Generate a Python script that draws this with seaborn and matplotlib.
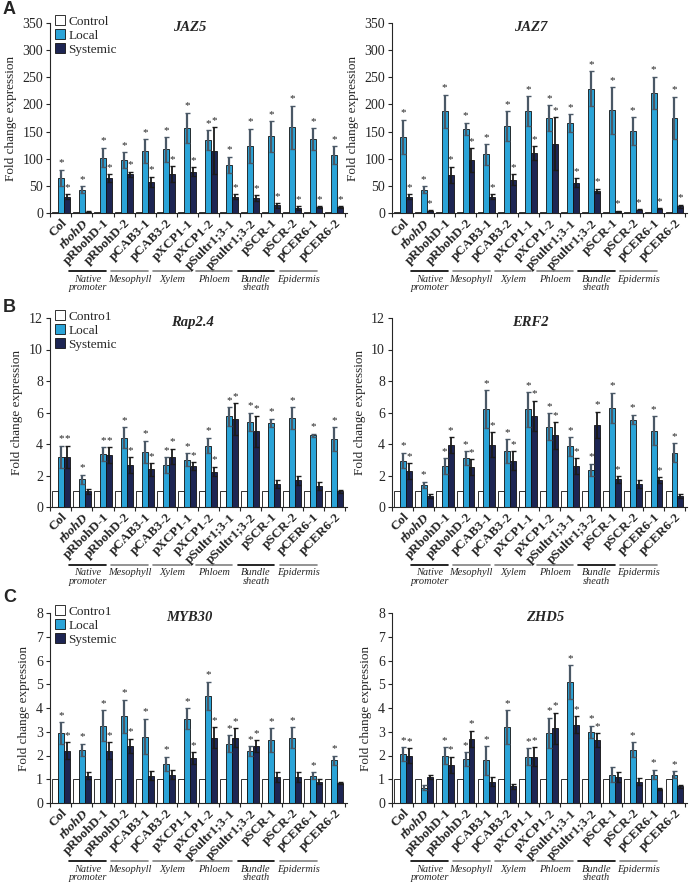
import pandas as pd
import matplotlib
matplotlib.use('Agg')
import matplotlib.pyplot as plt
import matplotlib.transforms as mtransforms
from matplotlib.patches import Patch
import seaborn as sns

# genotypes on the x axis, in order
genotypes = ['Col', 'rbohD', 'pRbohD-1', 'pRbohD-2', 'pCAB3-1', 'pCAB3-2', 'pXCP1-1', 'pXCP1-2',
             'pSultr1;3-1', 'pSultr1;3-2', 'pSCR-1', 'pSCR-2', 'pCER6-1', 'pCER6-2']
tissues = ['Native\npromoter', 'Mesophyll', 'Xylem', 'Phloem', 'Bundle\nsheath', 'Epidermis']
tissue_line_colors = ['black', 'grey', 'grey', 'grey', 'black', 'grey']
control = [1.0] * 14

# JAZ5
jaz5_local = [65, 43, 102, 97, 114, 117, 157, 134, 89, 124, 141, 158, 136, 107]
jaz5_local_err = [15, 6, 18, 15, 22, 23, 28, 18, 15, 31, 28, 40, 20, 16]
jaz5_sys = [30, 2, 65, 71, 57, 72, 76, 115, 30, 28, 14, 9, 11, 11]
jaz5_sys_err = [5, 1, 7, 5, 10, 14, 8, 43, 5, 5, 4, 3, 2, 2]
jaz5_local_star = [1] * 14
jaz5_sys_star = [1, 0, 1, 1, 1, 1, 1, 1, 1, 1, 1, 1, 1, 1]

# JAZ7
jaz7_local = [140, 43, 187, 155, 108, 160, 188, 175, 166, 229, 189, 151, 221, 175]
jaz7_local_err = [32, 6, 31, 11, 19, 27, 27, 24, 16, 32, 43, 25, 30, 39]
jaz7_sys = [30, 4, 70, 97, 30, 61, 110, 128, 56, 41, 3, 6, 8, 12]
jaz7_sys_err = [5, 1, 15, 22, 5, 10, 13, 48, 8, 4, 1, 1, 1, 3]
jaz7_local_star = [1] * 14
jaz7_sys_star = [1] * 14

# Rap2.4
rap_local = [3.2, 1.75, 3.35, 4.4, 3.5, 2.65, 3.0, 3.9, 5.75, 5.4, 5.35, 5.65, 4.55, 4.3]
rap_local_err = [0.7, 0.3, 0.45, 0.65, 0.7, 0.5, 0.4, 0.5, 0.6, 0.6, 0.25, 0.7, 0.1, 0.75]
rap_sys = [3.2, 1.0, 3.3, 2.65, 2.4, 3.2, 2.6, 2.25, 5.6, 4.8, 1.45, 1.7, 1.35, 1.0]
rap_sys_err = [0.7, 0.15, 0.5, 0.5, 0.4, 0.5, 0.25, 0.3, 1.0, 1.0, 0.25, 0.3, 0.25, 0.1]
rap_local_star = [1] * 14
rap_sys_star = [1, 0, 1, 1, 1, 1, 1, 1, 1, 1, 0, 0, 0, 0]

# ERF2
erf_local = [2.95, 1.4, 2.6, 3.1, 6.2, 3.55, 6.2, 5.1, 3.85, 2.35, 6.3, 5.55, 4.85, 3.45]
erf_local_err = [0.5, 0.2, 0.5, 0.45, 1.2, 0.75, 1.1, 0.85, 0.6, 0.4, 0.95, 0.3, 0.9, 0.6]
erf_sys = [2.3, 0.7, 3.95, 2.55, 3.95, 2.95, 5.8, 4.55, 2.6, 5.2, 1.75, 1.45, 1.7, 0.7]
erf_sys_err = [0.5, 0.1, 0.5, 0.5, 0.8, 0.6, 0.95, 0.85, 0.5, 0.85, 0.2, 0.25, 0.2, 0.1]
erf_local_star = [1] * 14
erf_sys_star = [1, 0, 1, 1, 1, 1, 1, 1, 1, 1, 1, 0, 1, 0]

# MYB30
myb_local = [2.95, 2.25, 3.25, 3.65, 2.8, 1.65, 3.55, 4.5, 2.5, 2.2, 2.65, 2.75, 1.15, 1.8]
myb_local_err = [0.45, 0.25, 0.65, 0.7, 0.75, 0.3, 0.45, 0.6, 0.35, 0.2, 0.5, 0.45, 0.15, 0.2]
myb_sys = [2.2, 1.15, 2.2, 2.4, 1.15, 1.2, 1.9, 2.75, 2.75, 2.4, 1.1, 1.1, 0.9, 0.85]
myb_sys_err = [0.35, 0.15, 0.35, 0.3, 0.2, 0.2, 0.25, 0.45, 0.4, 0.25, 0.2, 0.2, 0.1, 0.05]
myb_local_star = [1] * 14
myb_sys_star = [1, 0, 1, 1, 0, 0, 1, 1, 1, 1, 0, 0, 0, 0]

# ZHD5
zhd_local = [2.05, 0.65, 2.0, 1.85, 1.8, 3.2, 1.95, 2.95, 5.1, 3.0, 1.2, 2.25, 1.2, 1.2]
zhd_local_err = [0.3, 0.1, 0.35, 0.3, 0.6, 0.7, 0.35, 0.65, 0.7, 0.25, 0.3, 0.3, 0.2, 0.15]
zhd_sys = [2.0, 1.1, 1.6, 2.7, 0.9, 0.7, 1.95, 3.15, 3.3, 2.65, 1.1, 0.9, 0.6, 0.7]
zhd_sys_err = [0.3, 0.1, 0.35, 0.35, 0.2, 0.1, 0.4, 0.65, 0.35, 0.3, 0.2, 0.15, 0.05, 0.05]
zhd_local_star = [1, 0, 1, 1, 1, 1, 1, 1, 1, 1, 0, 1, 1, 1]
zhd_sys_star = [1, 0, 1, 1, 0, 0, 1, 1, 1, 1, 0, 0, 0, 0]

palette = {'Control': 'white', 'Local': '#2ba4d8', 'Systemic': '#1d2553'}

sns.set_style('ticks')
plt.rcParams['font.family'] = ['Liberation Serif', 'DejaVu Serif']
plt.rcParams['axes.linewidth'] = 0.8


def long_table(local, systemic):
    return pd.DataFrame({
        'Genotype': genotypes * 3,
        'Treatment': ['Control'] * 14 + ['Local'] * 14 + ['Systemic'] * 14,
        'Fold': control + local + systemic,
    })


def draw_panel(ax, title, title_x, local, local_err, sys_, sys_err, local_star, sys_star,
               ymax, ystep, control_label=None):
    df = long_table(local, sys_)
    sns.barplot(data=df, x='Genotype', y='Fold', hue='Treatment', order=genotypes,
                hue_order=['Control', 'Local', 'Systemic'], palette=palette, saturation=1,
                width=0.85, edgecolor='#111111', linewidth=0.6, errorbar=None,
                legend=False, ax=ax)

    star_pad = ymax * 0.012
    for cont, vals, errs, stars, ecol, elw in [
            (ax.containers[1], local, local_err, local_star, '#4a5866', 1.6),
            (ax.containers[2], sys_, sys_err, sys_star, '#1a1a1a', 1.3)]:
        xs = [p.get_x() + p.get_width() / 2 for p in cont]
        ax.errorbar(xs, vals, yerr=errs, fmt='none', ecolor=ecol, elinewidth=elw,
                    capsize=1.8, capthick=1.0, zorder=3)
        for x, v, e, s in zip(xs, vals, errs, stars):
            if s:
                ax.text(x, v + e + star_pad, '*', ha='center', va='bottom', fontsize=8)

    ax.set_xlim(-0.52, 13.6)
    ax.set_ylim(0, ymax)
    yt = [i * ystep for i in range(int(round(ymax / ystep)) + 1)]
    ax.set_yticks(yt)
    ax.set_yticklabels([f'{t:g}' for t in yt], fontsize=10)
    ax.set_ylabel('Fold change expression', fontsize=9.5, labelpad=4)
    ax.set_xlabel('')
    ax.set_xticks(range(14))
    ax.set_xticklabels(genotypes, rotation=45, ha='right', rotation_mode='anchor',
                       fontsize=9.5, fontweight='bold')
    ax.get_xticklabels()[1].set_style('italic')
    ax.tick_params(axis='x', length=0, pad=3)
    ax.set_xticks([i - 0.5 for i in range(15)], minor=True)
    ax.tick_params(axis='x', which='minor', length=3, width=0.8, direction='out')
    ax.tick_params(axis='y', length=3, width=0.8, direction='out', pad=2)
    sns.despine(ax=ax)

    ax.text(title_x, 0.975, title, transform=ax.transAxes, ha='center', va='center',
            fontsize=10.5, fontweight='bold', style='italic')

    # tissue group lines below the tick labels
    trans = mtransforms.blended_transform_factory(ax.transData, ax.transAxes)
    for k, (name, lc) in enumerate(zip(tissues, tissue_line_colors)):
        i = 2 + 2 * k
        x0, x1 = i - 1.6, i + 0.15
        ax.plot([x0, x1], [-0.305, -0.305], color=lc, lw=1.2, transform=trans, clip_on=False)
        ax.text((x0 + x1) / 2, -0.325, name, transform=trans, ha='center', va='top',
                fontsize=7.5, style='italic', linespacing=0.95)

    if control_label is not None:
        handles = [Patch(facecolor=palette[t], edgecolor='#111111', linewidth=0.6)
                   for t in ['Control', 'Local', 'Systemic']]
        ax.legend(handles, [control_label, 'Local', 'Systemic'], loc='upper left',
                  bbox_to_anchor=(0.017, 1.04), frameon=False, fontsize=9.5,
                  handlelength=0.75, handleheight=0.75, handletextpad=0.25,
                  labelspacing=0.12, borderpad=0, borderaxespad=0)


fig = plt.figure(figsize=(6.89, 8.86), dpi=100)
W, H = 689.0, 886.0
lefts = [50 / W, 392 / W]
widths = [297 / W, 295 / W]
rows = [(213, 190), (507, 189), (803, 190)]

panels = [
    ('JAZ5', 0.47, jaz5_local, jaz5_local_err, jaz5_sys, jaz5_sys_err, jaz5_local_star, jaz5_sys_star, 350, 50, 'Control'),
    ('JAZ7', 0.47, jaz7_local, jaz7_local_err, jaz7_sys, jaz7_sys_err, jaz7_local_star, jaz7_sys_star, 350, 50, None),
    ('Rap2.4', 0.48, rap_local, rap_local_err, rap_sys, rap_sys_err, rap_local_star, rap_sys_star, 12, 2, 'Contro1'),
    ('ERF2', 0.47, erf_local, erf_local_err, erf_sys, erf_sys_err, erf_local_star, erf_sys_star, 12, 2, None),
    ('MYB30', 0.47, myb_local, myb_local_err, myb_sys, myb_sys_err, myb_local_star, myb_sys_star, 8, 1, 'Contro1'),
    ('ZHD5', 0.52, zhd_local, zhd_local_err, zhd_sys, zhd_sys_err, zhd_local_star, zhd_sys_star, 8, 1, None),
]

for n, p in enumerate(panels):
    r, c = divmod(n, 2)
    bottom_px, height_px = rows[r]
    ax = fig.add_axes([lefts[c], 1 - bottom_px / H, widths[c], height_px / H])
    draw_panel(ax, *p[:8], ymax=p[8], ystep=p[9], control_label=p[10])

for letter, ypx in [('A', 9), ('B', 307), ('C', 597)]:
    fig.text(3 / W, 1 - ypx / H, letter, fontsize=13, fontweight='bold',
             family=['Liberation Sans', 'DejaVu Sans'], va='center', ha='left')

fig.savefig('out.png', dpi=100)
